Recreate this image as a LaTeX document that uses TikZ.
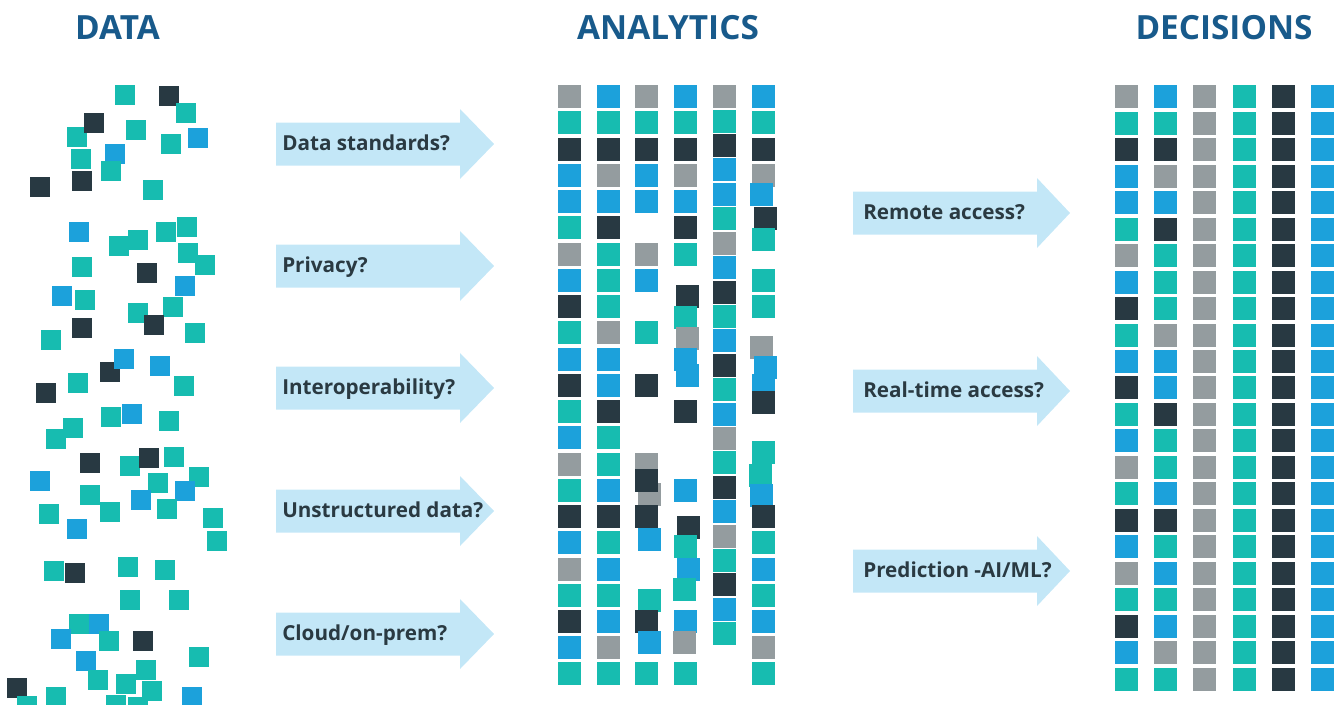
\documentclass[tikz,border=0pt]{standalone}
\usepackage{fontspec}
\setmainfont{Open Sans}
\definecolor{T}{HTML}{17BCB0}
\definecolor{B}{HTML}{1CA1DB}
\definecolor{D}{HTML}{283942}
\definecolor{G}{HTML}{949C9F}
\definecolor{arrowfill}{HTML}{C3E7F7}
\definecolor{labeltext}{HTML}{2A3A42}
\definecolor{headtext}{HTML}{185A8B}
\begin{document}
\begin{tikzpicture}[x=0.75pt,y=-0.75pt,
  title/.style={font=\fontsize{25}{29}\selectfont\bfseries, text=headtext, anchor=base, inner sep=0pt},
  qlabel/.style={font=\fontsize{15.5}{18}\selectfont\bfseries, text=labeltext, anchor=base west, inner sep=0pt},
  flow/.style={fill=arrowfill}]
\useasboundingbox (0,0) rectangle (1335,704);

% column headings
\node[title] (hdata) at (117.5,39) {DATA};
\node[title] (hanalytics) at (668,39) {ANALYTICS};
\node[title] (hdecisions) at (1224,39) {DECISIONS};

% scattered raw data (20px squares, later ones on top)
\foreach \x/\y/\c in {
 115/85/T,159/86/D,176/103/T,67/127/T,84/113/D,126/120/T,188/128/B,161/134/T,
 105/144/B,71/149/T,101/161/T,72/171/D,30/177/D,143/180/T,69/222/B,177/217/T,
 156/222/T,109/236/T,128/230/T,178/243/T,195/255/T,72/257/T,137/263/D,175/276/B,
 52/286/B,75/290/T,128/303/T,163/297/T,144/315/D,72/318/D,185/323/T,41/330/T,
 100/362/D,114/349/B,150/356/B,68/373/T,36/383/D,174/376/T,101/407/T,122/404/B,
 159/411/T,63/418/T,46/429/T,80/453/D,120/456/T,139/448/D,164/447/T,189/467/T,
 30/471/B,148/473/T,175/481/B,80/485/T,131/490/B,157/499/T,39/504/T,100/502/T,
 203/508/T,67/519/B,207/531/T,44/561/T,65/563/D,118/557/T,155/560/T,120/590/T,
 169/590/T,69/614/T,89/614/B,51/629/B,99/631/T,133/631/D,189/647/T,76/651/B,
 136/660/T,88/670/T,116/674/T,142/681/T,7/678/D,46/687/T,182/687/B,17/696/T,
 106/695/T,128/697/T}
 {\fill[\c] (\x,\y) rectangle ++(20,20);}

% analytics: regular columns A, B, E
\foreach \y/\a/\b in {
 85/G/B,111/T/T,138/D/D,164/B/G,190/B/B,216/T/D,243/G/T,269/B/T,295/D/T,321/T/G,
 348/B/B,374/D/B,400/T/D,426/B/T,453/G/T,479/T/B,505/D/D,531/B/T,558/G/B,584/T/T,
 610/D/B,636/B/G,662/T/T}
 {\fill[\a] (558,\y) rectangle ++(23,23);
  \fill[\b] (597,\y) rectangle ++(23,23);}
\foreach \y/\c in {
 85/G,110/T,134/D,158/B,183/B,207/T,232/G,256/B,281/D,305/T,329/B,354/D,
 378/T,403/B,427/G,451/T,476/D,500/B,525/G,549/T,573/D,598/B,622/T}
 {\fill[\c] (713,\y) rectangle ++(23,23);}

% analytics: shifted columns C, D, F
\foreach \x/\y/\c in {
 635/85/G,635/111/T,635/138/D,635/164/B,635/190/B,635/243/G,635/269/B,635/321/T,
 635/374/D,635/453/G,638/483/G,635/469/D,635/505/D,638/528/B,638/589/T,635/610/D,
 638/631/B,635/662/T,
 674/85/B,674/111/T,674/138/D,674/164/G,674/190/B,674/216/D,674/243/T,676/285/D,
 674/306/T,676/327/G,674/348/B,676/364/B,674/400/D,674/479/B,677/516/D,674/535/T,
 677/558/B,673/578/T,674/610/B,673/631/G,674/662/T,
 752/85/B,752/111/T,752/138/D,752/164/G,750/183/B,754/207/D,752/228/T,752/269/T,
 752/295/T,750/336/G,754/356/B,752/374/B,752/391/D,752/441/T,749/464/T,750/484/B,
 752/505/D,752/531/T,752/558/B,752/584/T,752/610/B,752/636/G,752/662/T}
 {\fill[\c] (\x,\y) rectangle ++(23,23);}

% decisions: ordered grid
\foreach \y/\a/\b in {
 85/G/B,112/T/T,138/D/D,165/B/G,191/B/B,218/T/D,244/G/T,271/B/T,297/D/T,324/T/G,
 350/B/B,376/D/B,403/T/D,429/B/T,456/G/T,482/T/B,509/D/D,535/B/T,562/G/B,588/T/T,
 615/D/B,641/B/G,668/T/T}
 {\fill[\a] (1115,\y) rectangle ++(23,23);
  \fill[\b] (1154,\y) rectangle ++(23,23);
  \fill[G] (1193,\y) rectangle ++(23,23);
  \fill[T] (1233,\y) rectangle ++(23,23);
  \fill[D] (1272,\y) rectangle ++(23,23);
  \fill[B] (1311,\y) rectangle ++(23,23);}

% questions between data and analytics
\foreach \cy/\txt [count=\i] in {
 144/{Data standards?},266/{Privacy?},388/{Interoperability?},
 511/{Unstructured data?},634/{Cloud/on-prem?}}
 {\fill[flow] (276,\cy-21.5) -- (460,\cy-21.5) -- (460,\cy-35) -- (494,\cy)
    -- (460,\cy+35) -- (460,\cy+21.5) -- (276,\cy+21.5) -- cycle;
  \node[qlabel] (qleft\i) at (282,\cy+6) {\txt};}

% questions between analytics and decisions
\foreach \cy/\txt [count=\i] in {
 213/{Remote access?},391/{Real-time access?},571/{Prediction -AI/ML?}}
 {\fill[flow] (853,\cy-21.5) -- (1037,\cy-21.5) -- (1037,\cy-35) -- (1070,\cy)
    -- (1037,\cy+35) -- (1037,\cy+21.5) -- (853,\cy+21.5) -- cycle;
  \node[qlabel] (qright\i) at (863,\cy+6) {\txt};}
\end{tikzpicture}
\end{document}
